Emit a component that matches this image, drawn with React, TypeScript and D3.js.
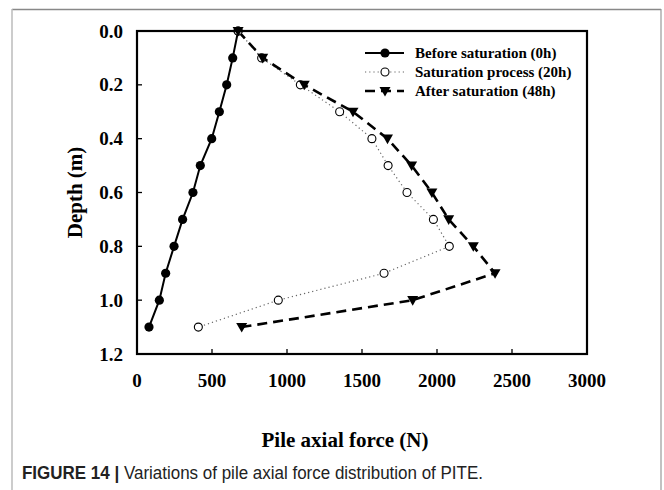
import React from "react";
import * as d3 from "d3";

const depths = [0, 0.1, 0.2, 0.3, 0.4, 0.5, 0.6, 0.7, 0.8, 0.9, 1.0, 1.1];
const before0h = [674, 638, 598, 549, 498, 422, 373, 304, 247, 191, 149, 80];
const process20h = [674, 831, 1089, 1351, 1566, 1674, 1800, 1976, 2082, 1647, 942, 409];
const after48h = [674, 838, 1115, 1440, 1670, 1831, 1966, 2078, 2242, 2387, 1838, 698];
const xTicks = [0, 500, 1000, 1500, 2000, 2500, 3000];
const yTicks = [0, 0.2, 0.4, 0.6, 0.8, 1.0, 1.2];
const seriesNames = ["Before saturation (0h)", "Saturation process (20h)", "After saturation (48h)"];

const SERIF = "'Liberation Serif', 'Times New Roman', serif";
const SANS = "'Liberation Sans', Arial, sans-serif";

export default function App() {
  const L = 137, R = 587, T = 31, B = 354;
  const x = d3.scaleLinear().domain([0, 3000]).range([L, R]);
  const y = d3.scaleLinear().domain([0, 1.2]).range([T, B]);
  const mk = (vals: number[]) =>
    d3.line<number>().x((v) => x(v)).y((_, i) => y(depths[i]))(vals) || "";

  const tri = (cx: number, cy: number, s = 5.5) =>
    `M${cx - s},${cy - s * 0.75}L${cx + s},${cy - s * 0.75}L${cx},${cy + s * 1.0}Z`;

  const legendY = [53, 72, 91];

  return (
    <svg width={664} height={490} style={{ position: "absolute", left: 0, top: 0, background: "#fff" }}>
      <rect x={0} y={0} width={664} height={490} fill="#fff" />
      {/* figure border */}
      <line x1={12} y1={9.5} x2={661} y2={9.5} stroke="#888" strokeWidth={1.5} />
      <line x1={12} y1={9} x2={12} y2={490} stroke="#bbb" strokeWidth={1.5} />
      <line x1={661} y1={9} x2={661} y2={490} stroke="#999" strokeWidth={1.2} />

      {/* series lines */}
      <path d={mk(before0h)} fill="none" stroke="#000" strokeWidth={2} />
      <path d={mk(process20h)} fill="none" stroke="#666" strokeWidth={1.2} strokeDasharray="1.2,3" />
      <path d={mk(after48h)} fill="none" stroke="#000" strokeWidth={2.6} strokeDasharray="10,6" />

      {/* markers */}
      {before0h.map((v, i) => (
        <circle key={"a" + i} cx={x(v)} cy={y(depths[i])} r={4.6} fill="#000" />
      ))}
      {process20h.map((v, i) => (
        <circle key={"b" + i} cx={x(v)} cy={y(depths[i])} r={4} fill="#fff" stroke="#000" strokeWidth={1.1} />
      ))}
      {after48h.map((v, i) => (
        <path key={"c" + i} d={tri(x(v), y(depths[i]))} fill="#000" />
      ))}

      {/* frame */}
      <rect x={L} y={T} width={R - L} height={B - T} fill="none" stroke="#000" strokeWidth={2.2} />
      {/* ticks inward */}
      {xTicks.map((t) => (
        <line key={"xt" + t} x1={x(t)} x2={x(t)} y1={B} y2={B - 5} stroke="#000" strokeWidth={1.3} />
      ))}
      {yTicks.map((t) => (
        <line key={"yt" + t} x1={L} x2={L + 5} y1={y(t)} y2={y(t)} stroke="#000" strokeWidth={1.3} />
      ))}
      {/* tick labels */}
      {xTicks.map((t) => (
        <text key={"xl" + t} x={x(t)} y={387} textAnchor="middle" fontFamily={SERIF} fontWeight="bold" fontSize={19} fill="#000">
          {t}
        </text>
      ))}
      {yTicks.map((t) => (
        <text key={"yl" + t} x={123} y={y(t) + 6.5} textAnchor="end" fontFamily={SERIF} fontWeight="bold" fontSize={19} fill="#000">
          {t.toFixed(1)}
        </text>
      ))}
      {/* axis titles */}
      <text x={345} y={447} textAnchor="middle" fontFamily={SERIF} fontWeight="bold" fontSize={21} fill="#000">
        Pile axial force (N)
      </text>
      <text transform={`translate(82,${(T + B) / 2}) rotate(-90)`} textAnchor="middle" fontFamily={SERIF} fontWeight="bold" fontSize={21} fill="#000">
        Depth (m)
      </text>

      {/* legend */}
      {seriesNames.map((name, i) => {
        const ly = legendY[i];
        return (
          <g key={"lg" + i}>
            {i === 0 && <line x1={365} x2={404} y1={ly} y2={ly} stroke="#000" strokeWidth={2} />}
            {i === 0 && <circle cx={385} cy={ly} r={4.6} fill="#000" />}
            {i === 1 && <line x1={365} x2={404} y1={ly} y2={ly} stroke="#666" strokeWidth={1.2} strokeDasharray="1.2,3" />}
            {i === 1 && <circle cx={385} cy={ly} r={4} fill="#fff" stroke="#000" strokeWidth={1.1} />}
            {i === 2 && <line x1={365} x2={404} y1={ly} y2={ly} stroke="#000" strokeWidth={2.6} strokeDasharray="10,6" />}
            {i === 2 && <path d={tri(385, ly)} fill="#000" />}
            <text x={415} y={ly + 5} fontFamily={SERIF} fontWeight="bold" fontSize={15} fill="#000">
              {name}
            </text>
          </g>
        );
      })}

      {/* caption */}
      <text x={22} y={479} fontFamily={SANS} fontSize={17.5} fill="#222" textLength={461} lengthAdjust="spacingAndGlyphs">
        <tspan fontWeight="bold">FIGURE 14 |</tspan>
        <tspan> Variations of pile axial force distribution of PITE.</tspan>
      </text>
    </svg>
  );
}
